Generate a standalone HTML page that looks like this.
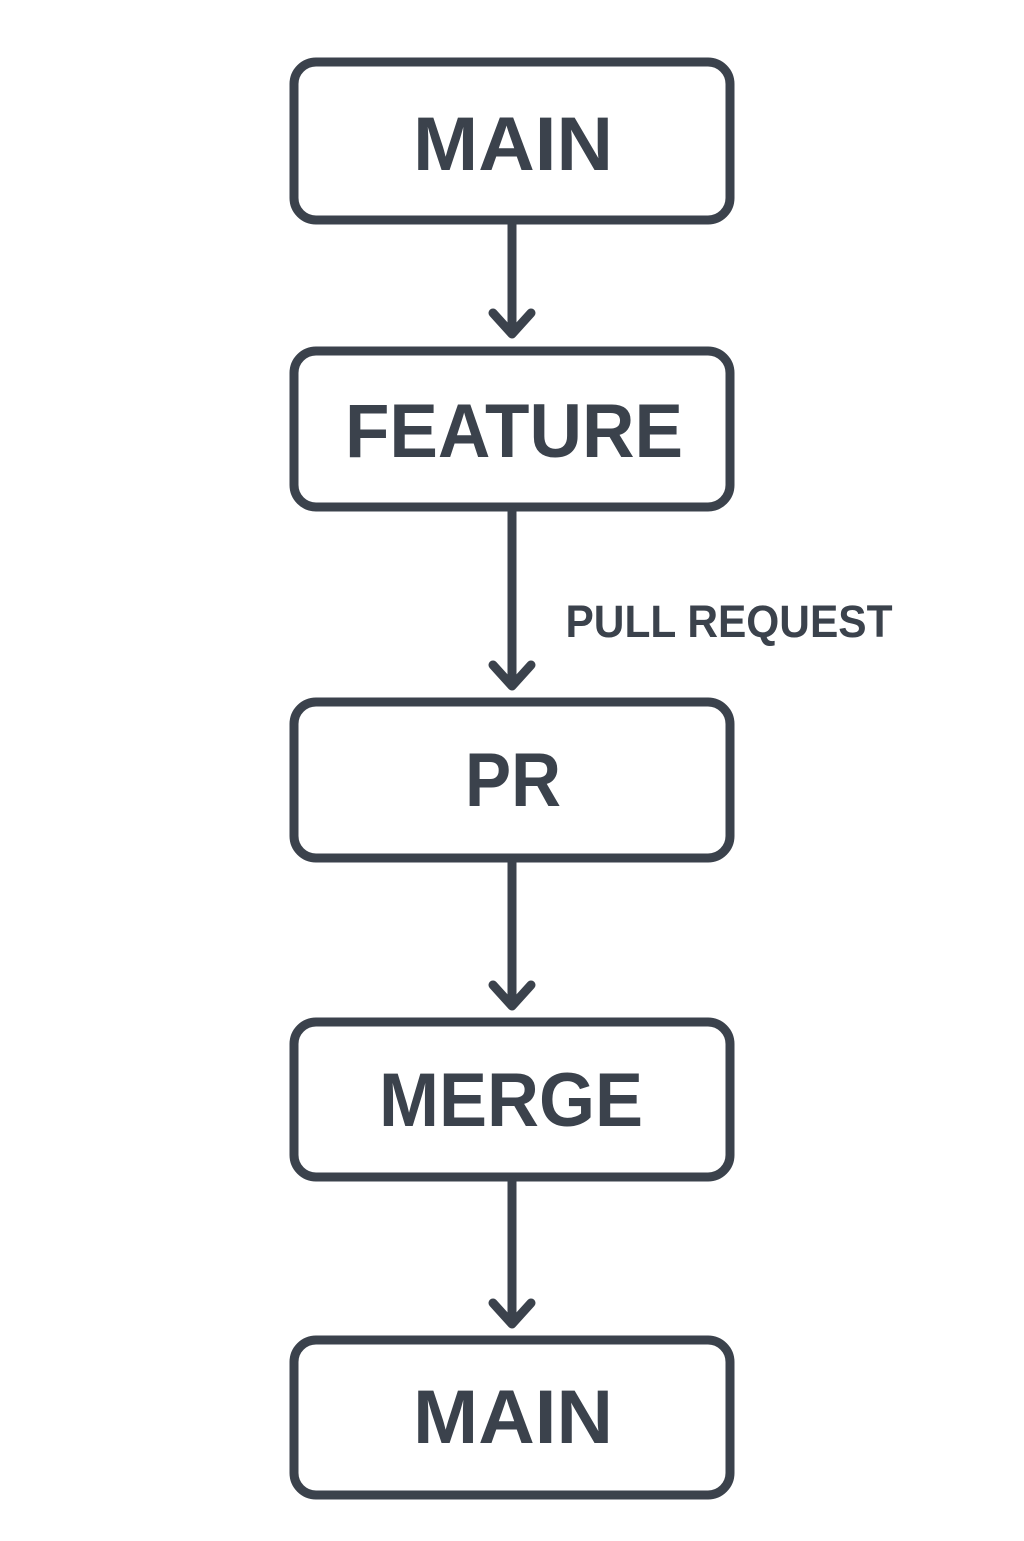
<!DOCTYPE html>
<html><head><style>html,body{margin:0;padding:0;background:#fff}</style></head>
<body>
<svg width="1024" height="1536" viewBox="0 0 1024 1536" xmlns="http://www.w3.org/2000/svg">
<g fill="none" stroke="#3b424c" stroke-width="9" stroke-linecap="round" stroke-linejoin="round">
<rect x="294" y="62" width="436" height="158" rx="22"/>
<rect x="294" y="351" width="436" height="156" rx="22"/>
<rect x="294" y="702" width="436" height="156" rx="22"/>
<rect x="294" y="1022" width="436" height="155" rx="22"/>
<rect x="294" y="1340" width="436" height="155" rx="22"/>
<path d="M512 222V334M493 313L512 334L531 313"/>
<path d="M512 509V686M493 665L512 686L531 665"/>
<path d="M512 860V1006M493 985L512 1006L531 985"/>
<path d="M512 1179V1324M493 1303L512 1324L531 1303"/>
</g>
<g fill="#3b424c" font-family="Liberation Sans, sans-serif" font-weight="bold" text-anchor="middle">
<text x="513" y="170" font-size="76" textLength="200" lengthAdjust="spacingAndGlyphs">MAIN</text>
<text x="514" y="457" font-size="76" textLength="338" lengthAdjust="spacingAndGlyphs">FEATURE</text>
<text x="513" y="806" font-size="76" textLength="96" lengthAdjust="spacingAndGlyphs">PR</text>
<text x="511" y="1126" font-size="76" textLength="264" lengthAdjust="spacingAndGlyphs">MERGE</text>
<text x="513" y="1443" font-size="76" textLength="200" lengthAdjust="spacingAndGlyphs">MAIN</text>
<text x="729" y="637" font-size="45" textLength="327" lengthAdjust="spacingAndGlyphs">PULL REQUEST</text>
</g>
</svg>
</body></html>
